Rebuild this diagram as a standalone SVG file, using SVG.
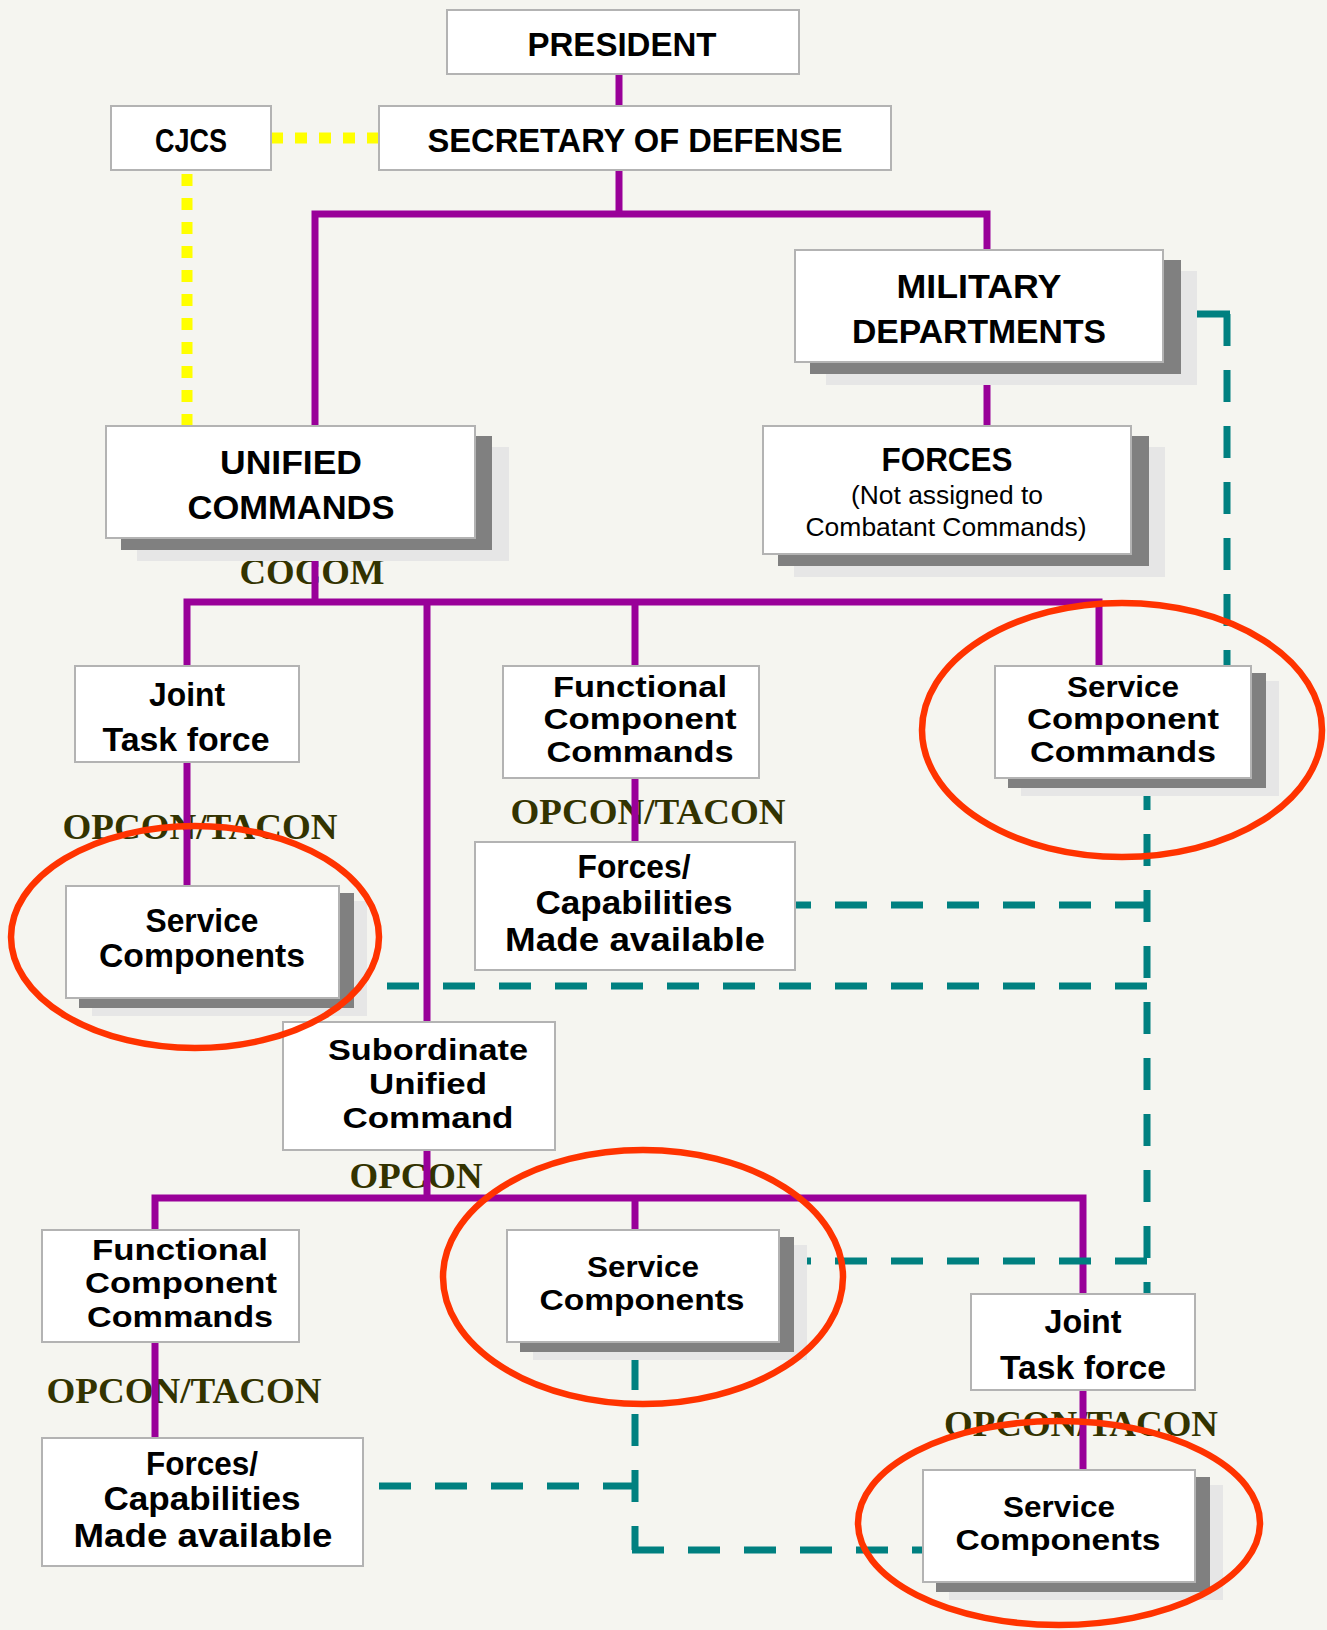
<svg xmlns="http://www.w3.org/2000/svg" width="1327" height="1630" viewBox="0 0 1327 1630">
<defs>
<style>
.box{fill:#ffffff;stroke:#b3b3b3;stroke-width:2}
.sd{fill:#808080}
.sl{fill:#e6e6e6}
.t{font-family:"Liberation Sans",Arial,sans-serif;font-weight:bold;font-size:33px;fill:#000000;text-anchor:middle}
.t3{font-size:29px}
.s{font-family:"Liberation Sans",Arial,sans-serif;font-size:25px;fill:#000000;text-anchor:middle}
.lab{font-family:"Liberation Serif","Times New Roman",serif;font-weight:bold;font-size:36px;fill:#333300;text-anchor:middle}
.p{fill:none;stroke:#990099;stroke-width:7}
.tl{fill:none;stroke:#008080;stroke-width:7;stroke-dasharray:32 24}
.tls{fill:none;stroke:#008080;stroke-width:7}
.y{fill:none;stroke:#ffff00;stroke-width:11;stroke-dasharray:12 12}
.r{fill:none;stroke:#ff3300;stroke-width:6.5}
</style>
</defs>
<rect x="0" y="0" width="1327" height="1630" fill="#f5f5f0"/>

<g id="labels">
<text class="lab" x="312" y="584" textLength="145" lengthAdjust="spacingAndGlyphs">COCOM</text>
<text class="lab" x="200" y="839" textLength="275" lengthAdjust="spacingAndGlyphs">OPCON/TACON</text>
<text class="lab" x="648" y="824" textLength="275" lengthAdjust="spacingAndGlyphs">OPCON/TACON</text>
<text class="lab" x="416" y="1188" textLength="133" lengthAdjust="spacingAndGlyphs">OPCON</text>
<text class="lab" x="184" y="1403" textLength="275" lengthAdjust="spacingAndGlyphs">OPCON/TACON</text>
<text class="lab" x="1081" y="1436" textLength="274" lengthAdjust="spacingAndGlyphs">OPCON/TACON</text>
</g>

<g id="connectors">
<path class="p" d="M619,74 V106"/>
<path class="p" d="M619,170 V214"/>
<path class="p" d="M315,426 V214 H987 V250"/>
<path class="p" d="M987,362 V426"/>
<path class="p" d="M315,538 V602"/>
<path class="p" d="M187,666 V602 H1099 V666"/>
<path class="p" d="M427,602 V1022"/>
<path class="p" d="M635,602 V666"/>
<path class="p" d="M187,762 V886"/>
<path class="p" d="M635,778 V842"/>
<path class="p" d="M427,1150 V1198"/>
<path class="p" d="M155,1230 V1198 H1083 V1294"/>
<path class="p" d="M635,1198 V1230"/>
<path class="p" d="M155,1342 V1438"/>
<path class="p" d="M1083,1390 V1470"/>
<path class="y" d="M271,138 H379"/>
<path class="y" d="M187,174 V426"/>
<path class="tls" d="M1197,314 H1230"/>
<path class="tl" d="M1227,314 V666"/>
<path class="tl" d="M1147,778 V1300"/>
<path class="tl" d="M1147,905 H795"/>
<path class="tl" d="M1147,986 H385"/>
<path class="tl" d="M1147,1261 H807"/>
<path class="tl" d="M379,1486 H635"/>
<path class="tl" d="M635,1358 V1550"/>
<path class="tl" d="M632,1550 H923"/>
</g>

<g id="president">
<rect class="box" x="447" y="10" width="352" height="64"/>
<text class="t" x="622" y="56" textLength="189" lengthAdjust="spacingAndGlyphs">PRESIDENT</text>
</g>
<g id="cjcs">
<rect class="box" x="111" y="106" width="160" height="64"/>
<text class="t" x="191" y="152" textLength="72" lengthAdjust="spacingAndGlyphs">CJCS</text>
</g>
<g id="secdef">
<rect class="box" x="379" y="106" width="512" height="64"/>
<text class="t" x="635" y="152" textLength="415" lengthAdjust="spacingAndGlyphs">SECRETARY OF DEFENSE</text>
</g>
<g id="military-departments">
<rect class="sl" x="826" y="271" width="371" height="114"/>
<rect class="sd" x="810" y="260" width="371" height="114"/>
<rect class="box" x="795" y="250" width="368" height="112"/>
<text class="t" x="979" y="298" textLength="165" lengthAdjust="spacingAndGlyphs">MILITARY</text>
<text class="t" x="979" y="343" textLength="254" lengthAdjust="spacingAndGlyphs">DEPARTMENTS</text>
</g>
<g id="forces">
<rect class="sl" x="794" y="447" width="371" height="130"/>
<rect class="sd" x="778" y="436" width="371" height="130"/>
<rect class="box" x="763" y="426" width="368" height="128"/>
<text class="t" x="947" y="471" textLength="131" lengthAdjust="spacingAndGlyphs">FORCES</text>
<text class="s" x="947" y="504" textLength="192" lengthAdjust="spacingAndGlyphs">(Not assigned to</text>
<text class="s" x="946" y="536" textLength="281" lengthAdjust="spacingAndGlyphs">Combatant Commands)</text>
</g>
<g id="unified-commands">
<rect class="sl" x="137" y="447" width="372" height="114"/>
<rect class="sd" x="121" y="436" width="371" height="114"/>
<rect class="box" x="106" y="426" width="369" height="112"/>
<text class="t" x="291" y="474" textLength="142" lengthAdjust="spacingAndGlyphs">UNIFIED</text>
<text class="t" x="291" y="519" textLength="207" lengthAdjust="spacingAndGlyphs">COMMANDS</text>
</g>
<g id="jtf-1">
<rect class="box" x="75" y="666" width="224" height="96"/>
<text class="t" x="187" y="706" textLength="76" lengthAdjust="spacingAndGlyphs">Joint</text>
<text class="t" x="186" y="751" textLength="167" lengthAdjust="spacingAndGlyphs">Task force</text>
</g>
<g id="fcc-1">
<rect class="box" x="503" y="666" width="256" height="112"/>
<text class="t t3" x="640" y="697" textLength="174" lengthAdjust="spacingAndGlyphs">Functional</text>
<text class="t t3" x="640" y="729" textLength="193" lengthAdjust="spacingAndGlyphs">Component</text>
<text class="t t3" x="640" y="762" textLength="187" lengthAdjust="spacingAndGlyphs">Commands</text>
</g>
<g id="service-component-commands">
<rect class="sl" x="1021" y="681" width="258" height="115"/>
<rect class="sd" x="1008" y="673" width="258" height="115"/>
<rect class="box" x="995" y="666" width="256" height="112"/>
<text class="t t3" x="1123" y="697" textLength="112" lengthAdjust="spacingAndGlyphs">Service</text>
<text class="t t3" x="1123" y="729" textLength="192" lengthAdjust="spacingAndGlyphs">Component</text>
<text class="t t3" x="1123" y="762" textLength="186" lengthAdjust="spacingAndGlyphs">Commands</text>
</g>
<g id="service-components-1">
<rect class="sl" x="92" y="901" width="275" height="115"/>
<rect class="sd" x="79" y="893" width="275" height="115"/>
<rect class="box" x="66" y="886" width="273" height="112"/>
<text class="t" x="202" y="932" textLength="113" lengthAdjust="spacingAndGlyphs">Service</text>
<text class="t" x="202" y="967" textLength="206" lengthAdjust="spacingAndGlyphs">Components</text>
</g>
<g id="forces-capabilities-1">
<rect class="box" x="475" y="842" width="320" height="128"/>
<text class="t" x="634" y="878" textLength="113" lengthAdjust="spacingAndGlyphs">Forces/</text>
<text class="t" x="634" y="914" textLength="197" lengthAdjust="spacingAndGlyphs">Capabilities</text>
<text class="t" x="635" y="951" textLength="260" lengthAdjust="spacingAndGlyphs">Made available</text>
</g>
<g id="subordinate-unified-command">
<rect class="box" x="283" y="1022" width="272" height="128"/>
<text class="t t3" x="428" y="1060" textLength="200" lengthAdjust="spacingAndGlyphs">Subordinate</text>
<text class="t t3" x="428" y="1094" textLength="118" lengthAdjust="spacingAndGlyphs">Unified</text>
<text class="t t3" x="428" y="1128" textLength="171" lengthAdjust="spacingAndGlyphs">Command</text>
</g>
<g id="fcc-2">
<rect class="box" x="42" y="1230" width="257" height="112"/>
<text class="t t3" x="180" y="1260" textLength="176" lengthAdjust="spacingAndGlyphs">Functional</text>
<text class="t t3" x="181" y="1293" textLength="192" lengthAdjust="spacingAndGlyphs">Component</text>
<text class="t t3" x="180" y="1327" textLength="186" lengthAdjust="spacingAndGlyphs">Commands</text>
</g>
<g id="service-components-2">
<rect class="sl" x="533" y="1245" width="274" height="115"/>
<rect class="sd" x="520" y="1237" width="274" height="115"/>
<rect class="box" x="507" y="1230" width="272" height="112"/>
<text class="t t3" x="643" y="1277" textLength="112" lengthAdjust="spacingAndGlyphs">Service</text>
<text class="t t3" x="642" y="1310" textLength="205" lengthAdjust="spacingAndGlyphs">Components</text>
</g>
<g id="forces-capabilities-2">
<rect class="box" x="42" y="1438" width="321" height="128"/>
<text class="t" x="202" y="1475" textLength="112" lengthAdjust="spacingAndGlyphs">Forces/</text>
<text class="t" x="202" y="1510" textLength="197" lengthAdjust="spacingAndGlyphs">Capabilities</text>
<text class="t" x="203" y="1547" textLength="259" lengthAdjust="spacingAndGlyphs">Made available</text>
</g>
<g id="jtf-2">
<rect class="box" x="971" y="1294" width="224" height="96"/>
<text class="t" x="1083" y="1333" textLength="77" lengthAdjust="spacingAndGlyphs">Joint</text>
<text class="t" x="1083" y="1379" textLength="166" lengthAdjust="spacingAndGlyphs">Task force</text>
</g>
<g id="service-components-3">
<rect class="sl" x="949" y="1485" width="274" height="115"/>
<rect class="sd" x="936" y="1477" width="274" height="115"/>
<rect class="box" x="923" y="1470" width="272" height="112"/>
<text class="t t3" x="1059" y="1517" textLength="112" lengthAdjust="spacingAndGlyphs">Service</text>
<text class="t t3" x="1058" y="1550" textLength="205" lengthAdjust="spacingAndGlyphs">Components</text>
</g>

<g id="highlights">
<ellipse class="r" cx="195" cy="937" rx="184" ry="111"/>
<ellipse class="r" cx="1122" cy="730" rx="200" ry="127"/>
<ellipse class="r" cx="643" cy="1277" rx="200" ry="127"/>
<ellipse class="r" cx="1059" cy="1523" rx="201" ry="102"/>
</g>
</svg>
